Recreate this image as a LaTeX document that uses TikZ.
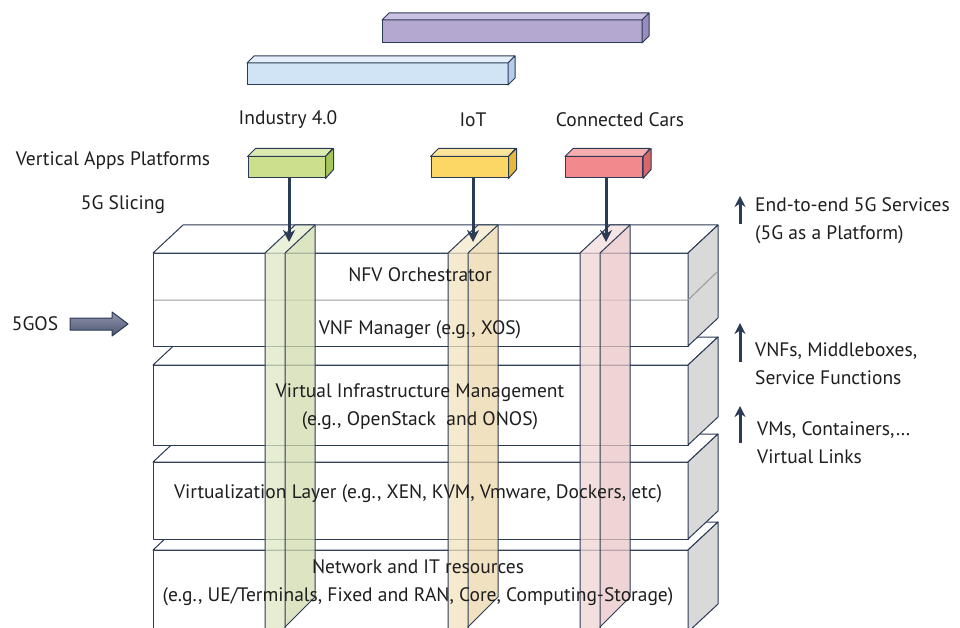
\documentclass[tikz,border=0pt]{standalone}
\usepackage{fontspec}
\setmainfont{PT Sans}
\usetikzlibrary{arrows.meta}
\definecolor{edge}{HTML}{2B3A55}
\definecolor{txt}{HTML}{1E1E1E}
\definecolor{sidegray}{HTML}{D9D9D9}
\definecolor{divgray}{HTML}{9A9A9A}
% app boxes
\definecolor{grF}{HTML}{CBDF8C}\definecolor{grT}{HTML}{DCEAB2}\definecolor{grS}{HTML}{A7C65A}
\definecolor{yeF}{HTML}{FDD766}\definecolor{yeT}{HTML}{FBE49A}\definecolor{yeS}{HTML}{E6B83C}
\definecolor{reF}{HTML}{F1898D}\definecolor{reT}{HTML}{F6ADAF}\definecolor{reS}{HTML}{D8676C}
% bars
\definecolor{puF}{HTML}{B4A7D0}\definecolor{puT}{HTML}{CBC1E2}\definecolor{puS}{HTML}{9A8BBE}
\definecolor{blF}{HTML}{D0E4F5}\definecolor{blT}{HTML}{E4EFFA}\definecolor{blS}{HTML}{B5CDE8}
% slices
\definecolor{sgF}{HTML}{DFE7C4}\definecolor{sgS}{HTML}{D2DCAE}
\definecolor{syF}{HTML}{F3E3BE}\definecolor{syS}{HTML}{ECD8AC}
\definecolor{srF}{HTML}{F1D5D5}\definecolor{srS}{HTML}{E9C6C6}
% cuboid: x1 y1 x2 y2 dx dy front top side
\newcommand\mycuboid[9]{%
  \filldraw[fill=#7,draw=edge,line width=1pt] (#1,#2) rectangle (#3,#4);
  \filldraw[fill=#8,draw=edge,line width=1pt] (#1,#2) -- (#1+#5,#2+#6) -- (#3+#5,#2+#6) -- (#3,#2) -- cycle;
  \filldraw[fill=#9,draw=edge,line width=1pt] (#3,#2) -- (#3+#5,#2+#6) -- (#3+#5,#4+#6) -- (#3,#4) -- cycle;
}
% slice: xl xm xr (front left, front right, back right) front side
\newcommand\myslice[5]{%
  \fill[#4,opacity=0.75] (#1,253) rectangle (#2,640);
  \fill[#5,opacity=0.75] (#2,253) -- (#3,225) -- (#3,597) -- (#2,627) -- cycle;
  \fill[#4!80!white,opacity=0.75] (#1,253) -- (#2,253) -- (#3,225) -- (#3-20,225) -- cycle;
  \draw[edge,line width=1pt] (#1,640) -- (#1,253) -- (#3-20,225) -- (#3,225) -- (#3,597) -- (#2,627) -- (#2,640);
  \draw[edge,line width=1pt] (#2,640) -- (#2,253) -- (#3,225);
}
\tikzset{
  lbl/.style={font=\fontsize{19.5}{28}\selectfont, text=txt, inner sep=0pt, align=center},
  lblL/.style={font=\fontsize{19.5}{28}\selectfont, text=txt, inner sep=0pt, align=left, anchor=west},
  appbox/.style={draw=edge, line width=1pt, minimum width=77pt, minimum height=21pt, inner sep=0pt},
  downarr/.style={draw=edge, line width=3pt, -{Stealth[length=12pt,width=12pt]}},
  uparr/.style={draw=edge, line width=3pt, -{Stealth[length=11pt,width=11pt]}},
}
\begin{document}
\begin{tikzpicture}[x=1pt,y=-1pt,line join=round]
\useasboundingbox (0,0) rectangle (960,628);
\clip (0,0) rectangle (960,628);
% top bars
\mycuboid{382}{20}{642}{43}{7}{-7}{puF}{puT}{puS}
\mycuboid{247}{63}{508}{85}{7}{-7}{blF}{blT}{blS}
% layers (bottom first)
\mycuboid{153}{550}{688}{632}{30}{-28}{white}{white}{sidegray}
\mycuboid{153}{462}{688}{539}{30}{-28}{white}{white}{sidegray}
\mycuboid{153}{365}{688}{445}{30}{-28}{white}{white}{sidegray}
\mycuboid{153}{253}{688}{346}{30}{-28}{white}{white}{sidegray}
\draw[divgray,line width=1pt] (154,300) -- (688,300) -- (717,272);
% slices
\myslice{265}{285}{315}{sgF}{sgS}
\myslice{448}{468}{498}{syF}{syS}
\myslice{580}{600}{630}{srF}{srS}
\coordinate (s1) at (289,242);
\coordinate (s2) at (473,242);
\coordinate (s3) at (606,242);
% app boxes
\node[appbox, fill=grF] (ind) at (286.5,167.5) {};
\node[appbox, fill=yeF] (iot) at (469.5,167.5) {};
\node[appbox, fill=reF] (car) at (604,167.5) {};
\foreach \b/\t/\s in {ind/grT/grS, iot/yeT/yeS, car/reT/reS}{
  \filldraw[fill=\t,draw=edge,line width=1pt] (\b.north west) -- ++(8,-8) -- ++(77,0) -- (\b.north east) -- cycle;
  \filldraw[fill=\s,draw=edge,line width=1pt] (\b.north east) -- ++(8,-8) -- ++(0,21) -- (\b.south east) -- cycle;
}
\draw[downarr] (ind.south -| s1) -- (s1);
\draw[downarr] (iot.south -| s2) -- (s2);
\draw[downarr] (car.south -| s3) -- (s3);
% labels
\node[lbl] (tind) at (288,120) {Industry 4.0};
\node[lbl] (tiot) at (473,120) {IoT};
\node[lbl] (tcar) at (620,120) {Connected Cars};
\node[lbl] (tvap) at (113,161) {Vertical Apps Platforms};
\node[lbl] (tsl) at (123,205) {5G Slicing};
\node[lbl] (tos) at (35,324) {5GOS};
% 5GOS block arrow
\shade[top color=black!25!blue!20!gray!70, bottom color=edge!85, draw=edge, line width=1pt]
  (70,318) -- (112,318) -- (112,312) -- (128,324) -- (112,336) -- (112,330) -- (70,330) -- cycle;
% layer texts
\node[lbl] (nfvo) at (420,275) {NFV Orchestrator};
\node[lbl] (vnfm) at (420,330) {VNF Manager (e.g., XOS)};
\node[lbl] (vim) at (420,407) {Virtual Infrastructure Management\\(e.g., OpenStack\ \ and ONOS)};
\node[lbl] (virt) at (418,494) {Virtualization Layer (e.g., XEN, KVM, Vmware, Dockers, etc)};
\node[lbl] (net) at (418,583) {Network and IT resources\\(e.g., UE/Terminals, Fixed and RAN, Core, Computing-Storage)};
% right side
\node[lblL] (r1) at (755,221) {End-to-end 5G Services\\(5G as a Platform)};
\node[lblL] (r2) at (755,364) {VNFs, Middleboxes,\\Service Functions};
\node[lblL] (r3) at (757,443) {VMs, Containers,…\\Virtual Links};
\coordinate (a1b) at (740,224); \coordinate (a1t) at (740,196);
\coordinate (a2b) at (740,362); \coordinate (a2t) at (740,323);
\coordinate (a3b) at (740,443); \coordinate (a3t) at (740,406);
\draw[uparr] (a1b) -- (a1t);
\draw[uparr] (a2b) -- (a2t);
\draw[uparr] (a3b) -- (a3t);
\end{tikzpicture}
\end{document}
